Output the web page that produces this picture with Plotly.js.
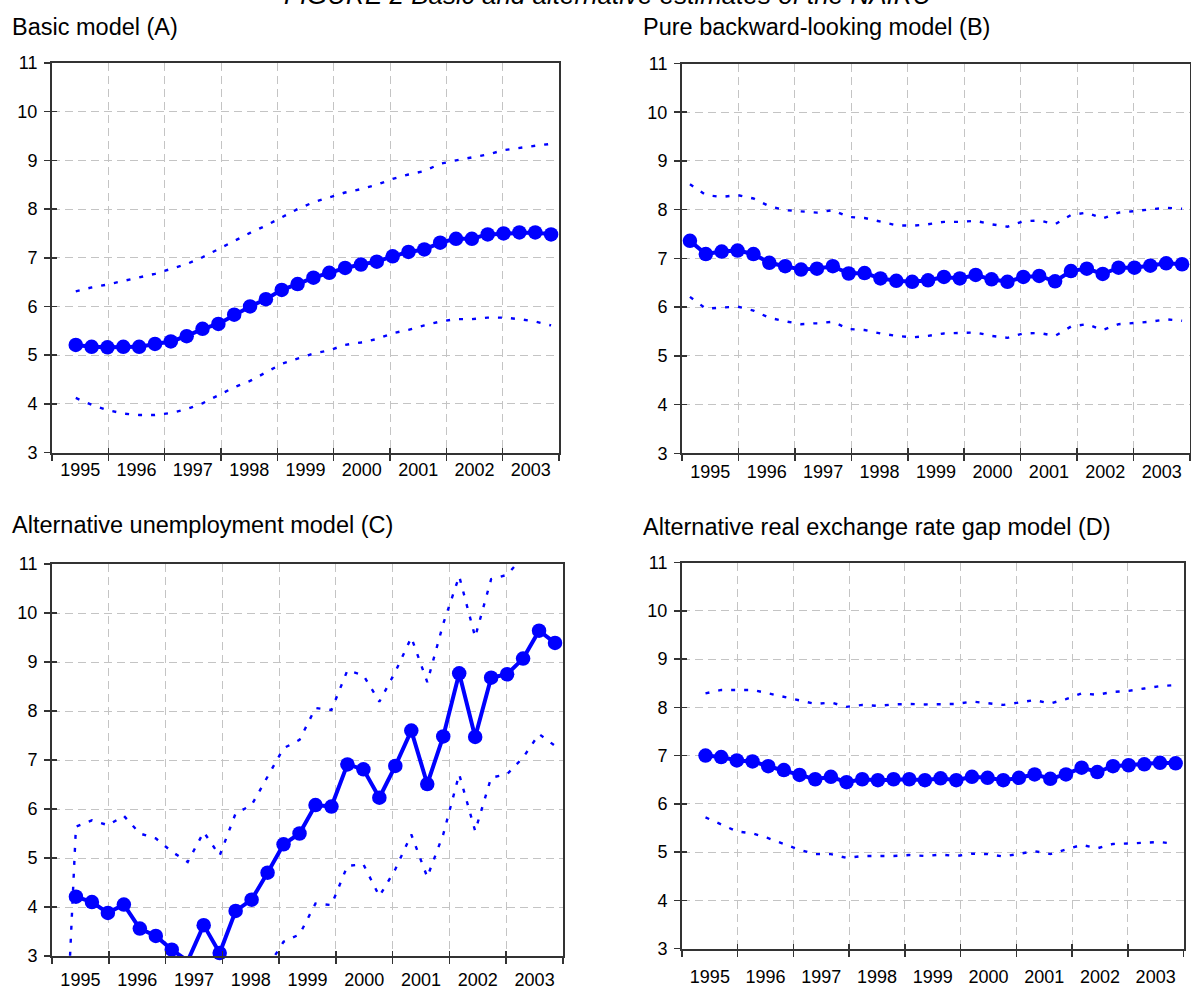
<!DOCTYPE html>
<html>
<head>
<meta charset="utf-8">
<script src="https://cdn.plot.ly/plotly-3.0.1.min.js"></script>
<style>
html,body{margin:0;padding:0;background:#ffffff;}
#chart{width:1191px;height:990px;}
</style>
</head>
<body>
<div id="chart"></div>
<script>
// ---------- data ----------
// quarter positions on each category axis (32 categories)
const qIndex = [0,1,2,3,4,5,6,7,8,9,10,11,12,13,14,15,16,17,18,19,20,21,22,23,24,25,26,27,28,29,30,31];
const yearLabels = ['1995','1996','1997','1998','1999','2000','2001','2002','2003'];

// (A) Basic model
const basicCentral = [null,5.21,5.17,5.16,5.17,5.17,5.23,5.28,5.39,5.54,5.64,5.83,6.00,6.15,6.34,6.46,6.59,6.69,6.79,6.86,6.92,7.03,7.12,7.17,7.31,7.39,7.39,7.48,7.50,7.52,7.52,7.48];
const basicUpper   = [null,6.31,6.39,6.45,6.52,6.59,6.67,6.77,6.87,7.01,7.18,7.35,7.51,7.66,7.83,8.00,8.14,8.24,8.34,8.41,8.50,8.62,8.71,8.78,8.93,9.00,9.06,9.12,9.21,9.26,9.30,9.34];
const basicLower   = [null,4.12,3.98,3.87,3.80,3.77,3.77,3.81,3.89,4.01,4.17,4.34,4.47,4.65,4.82,4.93,5.03,5.10,5.21,5.26,5.33,5.45,5.52,5.61,5.69,5.74,5.74,5.77,5.77,5.74,5.69,5.61];

// (B) Pure backward-looking model
const backCentral = [7.36,7.09,7.14,7.16,7.09,6.91,6.84,6.77,6.79,6.84,6.69,6.70,6.59,6.54,6.52,6.55,6.62,6.59,6.66,6.57,6.52,6.62,6.64,6.53,6.74,6.79,6.68,6.81,6.81,6.85,6.90,6.88];
const backUpper   = [8.52,8.30,8.26,8.30,8.23,8.07,7.99,7.96,7.94,7.99,7.85,7.83,7.75,7.68,7.67,7.70,7.75,7.75,7.77,7.70,7.65,7.76,7.78,7.70,7.89,7.94,7.82,7.94,7.97,8.00,8.04,8.02];
const backLower   = [6.21,5.97,5.99,6.01,5.93,5.78,5.71,5.65,5.67,5.70,5.55,5.53,5.46,5.41,5.38,5.41,5.46,5.47,5.48,5.41,5.37,5.46,5.47,5.41,5.60,5.65,5.53,5.65,5.68,5.70,5.75,5.72];

// (C) Alternative unemployment model
const unempCentral = [null,4.21,4.10,3.88,4.05,3.56,3.41,3.13,2.90,3.63,3.06,3.92,4.15,4.70,5.28,5.50,6.08,6.05,6.91,6.81,6.23,6.88,7.60,6.51,7.48,8.77,7.47,8.68,8.75,9.07,9.64,9.39];
const unempUpper   = [-1.5,5.64,5.77,5.67,5.86,5.50,5.40,5.13,4.92,5.53,5.05,5.91,6.08,6.66,7.24,7.41,8.06,8.02,8.83,8.73,8.19,8.80,9.50,8.59,9.78,10.75,9.51,10.69,10.78,11.15,11.75,11.50];
const unempLower   = [-4.5,2.78,2.45,2.10,2.24,1.60,1.40,1.15,0.90,1.70,1.10,1.95,2.20,2.77,3.29,3.44,4.07,4.04,4.84,4.87,4.22,4.77,5.48,4.61,5.48,6.71,5.55,6.64,6.71,7.05,7.53,7.29];

// (D) Alternative real exchange rate gap model
const rerCentral = [null,7.00,6.97,6.90,6.88,6.78,6.70,6.60,6.51,6.56,6.45,6.51,6.49,6.51,6.51,6.49,6.53,6.49,6.56,6.54,6.49,6.54,6.61,6.52,6.61,6.75,6.66,6.78,6.80,6.82,6.85,6.84];
const rerUpper   = [null,8.29,8.36,8.36,8.36,8.29,8.22,8.14,8.07,8.10,8.01,8.05,8.03,8.06,8.07,8.06,8.07,8.07,8.12,8.08,8.05,8.10,8.15,8.08,8.17,8.29,8.26,8.32,8.34,8.39,8.44,8.46];
const rerLower   = [null,5.72,5.57,5.43,5.39,5.29,5.17,5.05,4.96,4.96,4.88,4.92,4.92,4.92,4.94,4.92,4.95,4.92,4.97,4.96,4.91,4.97,5.02,4.96,5.06,5.15,5.08,5.17,5.18,5.20,5.21,5.17];

const panelTitles = ['Basic model (A)','Pure backward-looking model (B)','Alternative unemployment model (C)','Alternative real exchange rate gap model (D)'];
const mainTitle = 'FIGURE 2 Basic and alternative estimates of the NAIRU';

// ---------- layout helpers ----------
const W = 1191, H = 990;
const FONT = 'Liberation Sans, Arial, Helvetica, sans-serif';
const BLUE = '#0000ff';
const GRID = '#c4c4c4';
const AXC = '#333333';

const panels = [
  {c: basicCentral, u: basicUpper, l: basicLower, box: [52, 559, 63, 452.5],  title: [10, 27],  stand: 0, clip: true},
  {c: backCentral,  u: backUpper,  l: backLower,  box: [682, 1190, 63.5, 453.3], title: [641, 27], stand: 1, clip: true},
  {c: unempCentral, u: unempUpper, l: unempLower, box: [52, 563, 564, 956],    title: [10, 525], stand: 6, clip: false},
  {c: rerCentral,   u: rerUpper,   l: rerLower,   box: [682, 1183.5, 562.5, 948.7], title: [641, 527], stand: 11, clip: true}
];

const xRange = [-0.5, 31.5];
const nYears = yearLabels.length;
const step = (xRange[1] - xRange[0]) / nYears;
const boundaries = [];
const mids = [];
for (let k = 0; k <= nYears; k++) boundaries.push(xRange[0] + k * step);
for (let k = 0; k < nYears; k++) mids.push(xRange[0] + (k + 0.5) * step);

const traces = [];
const layout = {
  width: W, height: H,
  margin: {l: 0, r: 0, t: 0, b: 0, pad: 0},
  paper_bgcolor: '#ffffff',
  plot_bgcolor: '#ffffff',
  showlegend: false,
  font: {family: FONT, color: '#000000', size: 16},
  annotations: []
};

panels.forEach((p, i) => {
  const n = i + 1;
  const sx = n === 1 ? '' : String(n);
  const xa = 'x' + sx, ya = 'y' + sx;
  const ox = 'x' + (n + 4), oy = 'y' + (n + 4);
  const [l, r, t, b] = p.box;
  const xd = [l / W, r / W];
  const yd = [1 - b / H, 1 - t / H];

  layout['xaxis' + sx] = {
    domain: xd, anchor: ya, range: xRange, fixedrange: true,
    tickmode: 'array', tickvals: mids, ticktext: yearLabels,
    ticks: '', showgrid: false, zeroline: false,
    showline: true, linecolor: AXC, linewidth: 2, mirror: true,
    tickfont: {family: FONT, size: 18, color: '#000'},
    ticklabelstandoff: p.stand,
    minor: {tickmode: 'array', tickvals: boundaries, ticks: 'outside', ticklen: 6, tickwidth: 1.5, tickcolor: AXC,
            showgrid: true, gridcolor: GRID, gridwidth: 1, griddash: '8px,5px'}
  };
  layout['yaxis' + sx] = {
    domain: yd, anchor: xa, range: [3, 11], fixedrange: true,
    tickmode: 'linear', tick0: 3, dtick: 1,
    ticks: 'outside', ticklen: 6, tickwidth: 1.5, tickcolor: AXC,
    showgrid: true, gridcolor: GRID, gridwidth: 1, griddash: '8px,5px',
    zeroline: false, showline: true, linecolor: AXC, linewidth: 2, mirror: true,
    tickfont: {family: FONT, size: 18, color: '#000'},
    ticklabelstandoff: 3
  };
  // overlay axes giving the inner half of the crossing tick marks
  layout['xaxis' + (n + 4)] = {
    overlaying: xa, anchor: ya, side: 'bottom', range: xRange, fixedrange: true,
    tickmode: 'array', tickvals: boundaries, ticks: 'inside', ticklen: 5, tickwidth: 1.5, tickcolor: AXC,
    showticklabels: false, showgrid: false, zeroline: false, showline: false
  };
  layout['yaxis' + (n + 4)] = {
    overlaying: ya, anchor: xa, side: 'left', range: [3, 11], fixedrange: true,
    tickmode: 'linear', tick0: 3, dtick: 1, ticks: 'inside', ticklen: 5, tickwidth: 1.5, tickcolor: AXC,
    showticklabels: false, showgrid: false, zeroline: false, showline: false
  };

  const band = {color: BLUE, width: 2.4, dash: '4px,9px'};
  traces.push({x: qIndex, y: p.u, xaxis: xa, yaxis: ya, type: 'scatter', mode: 'lines', line: band, hoverinfo: 'skip'});
  traces.push({x: qIndex, y: p.l, xaxis: xa, yaxis: ya, type: 'scatter', mode: 'lines', line: band, hoverinfo: 'skip'});
  traces.push({x: qIndex, y: p.c, xaxis: xa, yaxis: ya, type: 'scatter', mode: 'lines+markers',
    line: {color: BLUE, width: 4}, marker: {color: BLUE, size: 14.5, line: {width: 0}},
    cliponaxis: p.clip, hoverinfo: 'skip'});
  // dummy traces to register overlay axes
  traces.push({x: [xRange[0]], y: [3], xaxis: ox, yaxis: oy, type: 'scatter', mode: 'markers',
    marker: {size: 0.1, color: 'rgba(0,0,0,0)'}, hoverinfo: 'skip'});

  layout.annotations.push({
    text: panelTitles[i], xref: 'paper', yref: 'paper',
    x: p.title[0] / W, y: 1 - p.title[1] / H, xanchor: 'left', yanchor: 'middle',
    showarrow: false, font: {family: FONT, size: 23.5, color: '#000'}
  });
});

layout.annotations.push({
  text: '<i>' + mainTitle + '</i>', xref: 'paper', yref: 'paper',
  x: 608 / W, y: 1 - 12 / H, xanchor: 'center', yanchor: 'bottom',
  showarrow: false, font: {family: FONT, size: 26, color: '#000'}
});

Plotly.newPlot('chart', traces, layout, {displayModeBar: false, staticPlot: true});
</script>
</body>
</html>
